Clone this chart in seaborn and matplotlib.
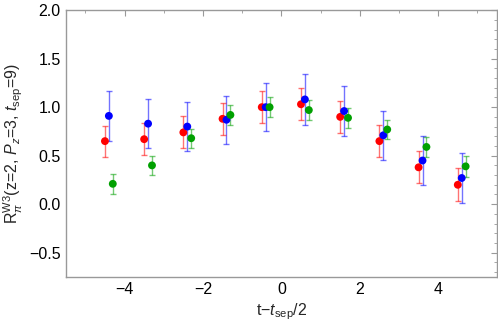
import pandas as pd
import matplotlib
matplotlib.use("Agg")
import matplotlib.pyplot as plt
import seaborn as sns
from matplotlib.ticker import MultipleLocator

# t - t_sep/2 positions (each series shifted a little so bars don't overlap)
t_vals = [-4.5, -3.5, -2.5, -1.5, -0.5, 0.5, 1.5, 2.5, 3.5, 4.5]
offsets = {"red": 0.0, "blue": 0.1, "green": 0.2}

red_y = [0.65, 0.67, 0.74, 0.88, 1.00, 1.03, 0.90, 0.65, 0.38, 0.20]
red_err = [0.16, 0.165, 0.165, 0.165, 0.165, 0.165, 0.165, 0.165, 0.165, 0.17]
blue_y = [0.91, 0.83, 0.80, 0.87, 1.00, 1.08, 0.96, 0.71, 0.45, 0.27]
blue_err = [0.255, 0.25, 0.25, 0.25, 0.25, 0.26, 0.255, 0.255, 0.255, 0.255]
green_y = [0.21, 0.40, 0.68, 0.92, 1.00, 0.97, 0.89, 0.77, 0.59, 0.39]
green_err = [0.10, 0.10, 0.10, 0.10, 0.10, 0.10, 0.10, 0.10, 0.10, 0.105]

colors = {"red": "#ff0000", "blue": "#0000ff", "green": "#00a000"}

rows = []
for name, ys, es in [("red", red_y, red_err), ("blue", blue_y, blue_err), ("green", green_y, green_err)]:
    for t, y, e in zip(t_vals, ys, es):
        rows.append({"t": t + offsets[name], "R": y, "err": e, "series": name})
df = pd.DataFrame(rows)

sns.set_style("white")
plt.rcParams["font.family"] = ["Liberation Sans", "DejaVu Sans"]
plt.rcParams["mathtext.fontset"] = "custom"
plt.rcParams["mathtext.rm"] = "Liberation Sans"
plt.rcParams["mathtext.it"] = "Liberation Sans:italic"

fig = plt.figure(figsize=(4.98, 3.27), dpi=100)
ax = fig.add_axes([0.132, 0.153, 0.866, 0.816])

# error bars first, lighter than the points
for name, g in df.groupby("series"):
    ax.errorbar(g["t"], g["R"], yerr=g["err"], fmt="none", ecolor=colors[name],
                alpha=0.55, elinewidth=1.0, capsize=2.5, capthick=1.0, zorder=2)

sns.scatterplot(data=df, x="t", y="R", hue="series", palette=colors, s=32,
                edgecolor="none", legend=False, ax=ax, zorder=3)

ax.set_xlim(-5.5, 5.5)
ax.set_ylim(-0.75, 2.0)
ax.xaxis.set_major_locator(MultipleLocator(2))
ax.xaxis.set_minor_locator(MultipleLocator(1))
ax.yaxis.set_major_locator(MultipleLocator(0.5))
ax.yaxis.set_minor_locator(MultipleLocator(0.1))
ax.tick_params(which="both", direction="in", top=True, right=True, color="#999999",
               labelsize=11.5, labelcolor="black")
ax.tick_params(which="major", length=4, width=0.8)
ax.tick_params(which="minor", length=2, width=0.6)
ax.set_xticks([-4, -2, 0, 2, 4])
ax.set_xticklabels(["\u22124", "\u22122", "0", "2", "4"])
ax.set_yticks([-0.5, 0.0, 0.5, 1.0, 1.5, 2.0])
ax.set_yticklabels(["\u22120.5", "0.0", "0.5", "1.0", "1.5", "2.0"])
for s in ax.spines.values():
    s.set_color("#999999")
    s.set_linewidth(1.0)

ax.set_xlabel(r"t$-$$\mathit{t}_{\mathrm{sep}}$/2", fontsize=11.5, labelpad=3)
ax.set_ylabel(r"R$_{\pi}^{\mathrm{W3}}$(z=2, $\mathit{P}_z$=3, $\mathit{t}_{\mathrm{sep}}$=9)",
              fontsize=11.5, labelpad=3)

fig.savefig("out.png", dpi=100)
